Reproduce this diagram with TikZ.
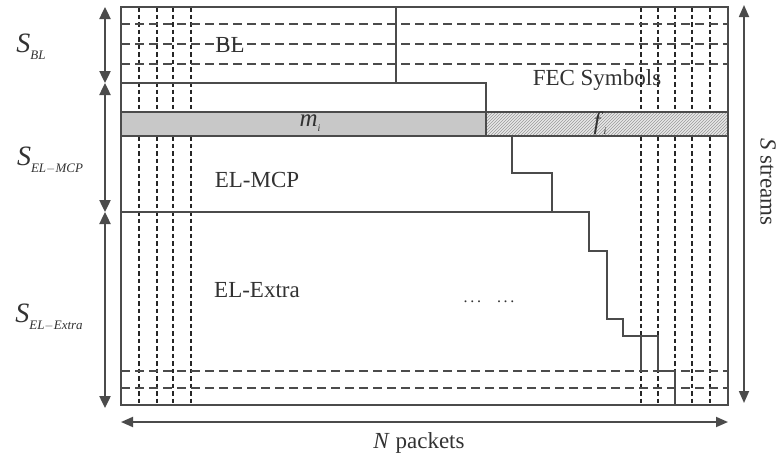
\documentclass[tikz,border=0pt]{standalone}
\usepackage{fontspec}
\setmainfont{Liberation Serif}
\definecolor{frameGray}{RGB}{75,75,75}
\definecolor{textGray}{RGB}{50,50,50}
\definecolor{bandGray}{RGB}{200,200,200}
\definecolor{hatchLight}{RGB}{232,232,232}
\usetikzlibrary{arrows.meta,patterns}
\newcommand{\layersize}[1]{\textit{S}\raisebox{-7pt}{\fontsize{13}{14}\selectfont\itshape #1}}

\begin{document}
\begin{tikzpicture}[x=1pt,y=-1pt,
  frame/.style={draw=frameGray, line width=2.3pt},
  rowdash/.style={draw=frameGray, line width=2pt, dash pattern=on 9pt off 5pt},
  coldash/.style={draw=black!85, line width=1.4pt, dash pattern=on 4.5pt off 3pt},
  stair/.style={draw=frameGray, line width=2pt},
  dim/.style={draw=frameGray, line width=2.4pt,
              {Triangle[length=12pt,width=11pt]}-{Triangle[length=12pt,width=11pt]}},
  span/.style={draw=frameGray, line width=1.8pt,
               {Triangle[length=12pt,width=10pt]}-{Triangle[length=12pt,width=10pt]}},
  lbl/.style={font=\fontsize{23}{25}\selectfont, inner sep=0pt, text=textGray}
]
  \useasboundingbox (0,0) rectangle (779,464);

  % band of MCP and FEC symbols
  \fill[bandGray] (121,112) rectangle (486,136);
  \fill[hatchLight] (486,112) rectangle (728,136);
  \fill[pattern=north east lines, pattern color=gray!80] (486,112) rectangle (728,136);

  % packet columns and stream rows
  \foreach \x in {139,157,173,191,641,658,675,692,710} {
    \draw[coldash] (\x,7) -- (\x,112);
    \draw[coldash] (\x,136) -- (\x,405);
  }
  \foreach \y in {24,44,64,371,388}
    \draw[rowdash] (121,\y) -- (728,\y);

  % frame and layer borders
  \draw[frame] (121,7) rectangle (728,405);
  \draw[frame] (121,112) rectangle (728,136);
  \draw[frame] (486,112) -- (486,136);
  \draw[stair] (396,7) -- (396,83);
  \draw[stair] (121,83) -- (486,83) -- (486,112);
  \draw[stair] (121,212) -- (552,212);
  \draw[stair] (512,136) |- (552,173) |- (589,212) |- (607,251) |- (623,319)
               |- (658,336) |- (675,371) -- (675,405);
  \draw[stair] (641,336) -- (641,371);

  % dimension arrows
  \coordinate (lTop) at (105,7);
  \coordinate (lBL)  at (105,83);
  \coordinate (lMCP) at (105,212);
  \coordinate (lBot) at (105,408);
  \draw[dim] (lTop) -- (lBL);
  \draw[dim] (lBL) -- (lMCP);
  \draw[dim] (lMCP) -- (lBot);

  \coordinate (rTop) at (744,5);
  \coordinate (rBot) at (744,403);
  \draw[span] (rTop) -- (rBot);

  \coordinate (bLeft)  at (121,422);
  \coordinate (bRight) at (728,422);
  \draw[span] (bLeft) -- (bRight);

  % labels
  \node[lbl, font=\fontsize{28}{30}\selectfont] (sbl)    at (31,47)  {\layersize{BL}};
  \node[lbl, font=\fontsize{28}{30}\selectfont] (smcp)   at (50,160) {\layersize{EL$-$MCP}};
  \node[lbl, font=\fontsize{28}{30}\selectfont] (sextra) at (49,317) {\layersize{EL$-$Extra}};

  \node[lbl] (bl)  at (230,45)  {BL};
  \node[lbl] (fec) at (597,80)  {FEC Symbols};
  \node[lbl, font=\fontsize{25}{26}\selectfont] (mi)  at (310,123) {\textit{m}\raisebox{-5pt}{\fontsize{10}{10}\selectfont\itshape i}};
  \node[lbl, font=\fontsize{25}{26}\selectfont] (fi)  at (600,123) {\textit{f}\raisebox{-5pt}{\fontsize{10}{10}\selectfont\itshape i}};
  \node[lbl] (mcp)   at (257,180) {EL-MCP};
  \node[lbl] (extra) at (257,290) {EL-Extra};
  \node[font=\fontsize{16}{16}\selectfont, inner sep=0pt, text=textGray] (dots) at (489,302) {.\,.\,.\quad.\,.\,.};

  \node[lbl, rotate=-90] (streams) at (768,182) {\textit{S} streams};
  \node[lbl] (packets) at (419,443) {\textit{N} packets};
\end{tikzpicture}
\end{document}
